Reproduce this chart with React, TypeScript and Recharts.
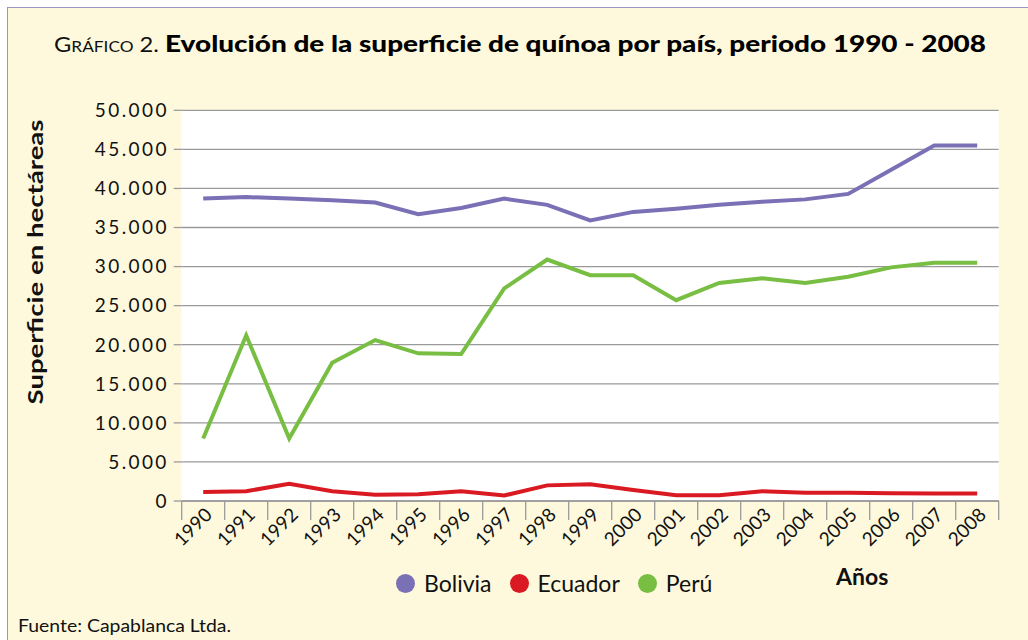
import { LineChart, Line, XAxis, YAxis, CartesianGrid, Legend, Label } from 'recharts'

// years on the x axis
const years = ['1990', '1991', '1992', '1993', '1994', '1995', '1996', '1997', '1998', '1999',
  '2000', '2001', '2002', '2003', '2004', '2005', '2006', '2007', '2008']

// hectares per country
const bolivia = [38700, 38900, 38700, 38500, 38200, 36700, 37500, 38700, 37900, 35900,
  37000, 37400, 37900, 38300, 38600, 39300, 42400, 45500, 45500]
const ecuador = [1150, 1250, 2200, 1250, 800, 850, 1250, 700, 2000, 2150,
  1400, 750, 750, 1250, 1050, 1050, 1000, 950, 950]
const peru = [8000, 21200, 8000, 17700, 20600, 18900, 18800, 27200, 30900, 28900,
  28900, 25700, 27900, 28500, 27900, 28700, 29900, 30500, 30500]

const yTicks = [0, 5000, 10000, 15000, 20000, 25000, 30000, 35000, 40000, 45000, 50000]

const data = years.map((year, i) => ({
  year,
  bolivia: bolivia[i],
  ecuador: ecuador[i],
  peru: peru[i],
}))

const STEP = 43
const GRID = '#9a9a9a'
const FONT = 'Lato, "Open Sans", sans-serif'

const fmt = (v: number) => String(v).replace(/\B(?=(\d{3})+(?!\d))/g, '.')

const YearTick = ({ x, y, payload, index }: any) => {
  const tx = x + 10
  const ty = y + 15
  return (
    <g>
      <line x1={x - STEP / 2} x2={x - STEP / 2} y1={y} y2={y + 19} stroke={GRID} strokeWidth={1.3} />
      {index === years.length - 1 && (
        <line x1={x + STEP / 2} x2={x + STEP / 2} y1={y} y2={y + 19} stroke={GRID} strokeWidth={1.3} />
      )}
      <text x={tx} y={ty} transform={`rotate(-45, ${tx}, ${ty})`} textAnchor="end"
        fontSize={19} fontFamily={FONT} fill="#111">
        {payload.value}
      </text>
    </g>
  )
}

const ValueTick = ({ x, y, payload }: any) => (
  <text x={x + 2.4} y={y} dy="0.36em" textAnchor="end" fontSize={19} fontFamily={FONT}
    letterSpacing={2.4} fill="#111">
    {fmt(payload.value)}
  </text>
)

const YLabel = () => (
  <text x={43} y={262} transform="rotate(-90, 43, 262)" textAnchor="middle" fontSize={21}
    fontWeight="bold" fontFamily={FONT} fill="#111" textLength={285} lengthAdjust="spacingAndGlyphs">
    Superficie en hectáreas
  </text>
)

const renderLegend = ({ payload }: any) => (
  <div style={{ display: 'flex', alignItems: 'center', gap: 18, fontFamily: FONT, fontSize: 23, lineHeight: '23px', color: '#111' }}>
    {payload.map((p: any) => (
      <div key={p.value} style={{ display: 'flex', alignItems: 'center' }}>
        <span style={{ width: 19, height: 19, borderRadius: '50%', background: p.color, marginRight: 9, display: 'inline-block' }} />
        <span>{p.value}</span>
      </div>
    ))}
  </div>
)

export default function App() {
  return (
    <div style={{ position: 'absolute', left: 0, top: 0, width: 1028, height: 640, background: '#fff', overflow: 'hidden' }}>
      <div style={{ position: 'absolute', left: 7, top: 7, width: 1040, height: 660, background: '#FEF9DC', border: '1.5px solid #9a95c9' }} />
      <svg width={1028} height={640} style={{ position: 'absolute', left: 0, top: 0 }}>
        <text x={54} y={52} fontFamily={FONT} fill="#111" textLength={105} lengthAdjust="spacingAndGlyphs">
          <tspan fontSize={22}>G</tspan>
          <tspan fontSize={16}>RÁFICO</tspan>
          <tspan fontSize={22}> 2.</tspan>
        </text>
        <text x={165} y={52} fontFamily={FONT} fontWeight={900} fontSize={23} fill="#000"
          textLength={821} lengthAdjust="spacingAndGlyphs">
          Evolución de la superficie de quínoa por país, periodo 1990 - 2008
        </text>
        <text x={836} y={585} fontFamily={FONT} fontWeight="bold" fontSize={23} fill="#111">Años</text>
        <text x={18} y={632} fontFamily={FONT} fontSize={18} fill="#111"
          textLength={213} lengthAdjust="spacingAndGlyphs">Fuente: Capablanca Ltda.</text>
      </svg>
      <div style={{ position: 'absolute', left: 0, top: 0 }}>
        <LineChart width={1028} height={640} data={data}
          margin={{ top: 110.3, right: 29.3, bottom: 109, left: 0 }}>
          <CartesianGrid vertical={false} fill="#fff" stroke={GRID} strokeWidth={1.3} />
          <XAxis dataKey="year" height={30} interval={0} padding={{ left: STEP / 2, right: STEP / 2 }}
            axisLine={{ stroke: GRID, strokeWidth: 1.3 }} tickLine={false} tickSize={0} tickMargin={0}
            tick={<YearTick />} />
          <YAxis width={181.7} domain={[0, 50000]} ticks={yTicks} interval={0}
            axisLine={false} tickSize={8} tickMargin={7.3}
            tickLine={{ stroke: GRID, strokeWidth: 1.3 }} tick={<ValueTick />}>
            <Label content={<YLabel />} />
          </YAxis>
          <Legend layout="horizontal" verticalAlign="middle" align="center" content={renderLegend}
            wrapperStyle={{ left: 396, top: 572, width: 'auto', height: 'auto' }} />
          <Line dataKey="bolivia" name="Bolivia" stroke="#7A70B5" strokeWidth={4} dot={false}
            activeDot={false} isAnimationActive={false} />
          <Line dataKey="ecuador" name="Ecuador" stroke="#DA1A22" strokeWidth={4} dot={false}
            activeDot={false} isAnimationActive={false} />
          <Line dataKey="peru" name="Perú" stroke="#78BE43" strokeWidth={4} dot={false}
            activeDot={false} isAnimationActive={false} />
        </LineChart>
      </div>
    </div>
  )
}
